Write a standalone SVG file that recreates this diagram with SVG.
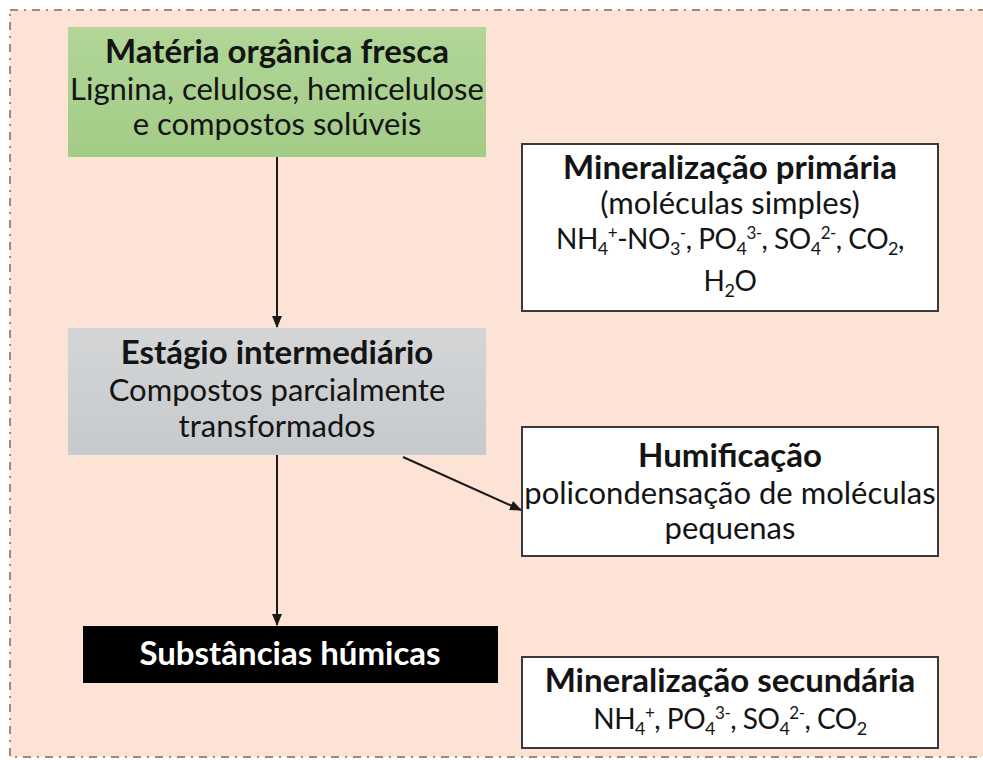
<svg xmlns="http://www.w3.org/2000/svg" width="983" height="760" viewBox="0 0 983 760">
<style>
text{font-family:Lato,"Open Sans","Liberation Sans",sans-serif;fill:#141414;text-anchor:middle}
.t{font-size:33px;font-weight:700}
.r{font-size:31px}
.f{font-size:28px;letter-spacing:-0.5px}
.w{fill:#ffffff}
.sub{font-size:18px;baseline-shift:-6px}
.sup{font-size:17px;baseline-shift:10px}
.box{fill:#ffffff;stroke:#3a3a3a;stroke-width:2}
.ln{stroke:#1a1a1a;stroke-width:2;fill:none}
</style>
<defs>
<marker id="ah" markerWidth="12" markerHeight="10" refX="11" refY="5" orient="auto" markerUnits="userSpaceOnUse">
<path d="M0,0 L12,5 L0,10 Z" fill="#1a1a1a"/>
</marker>
<linearGradient id="gg" x1="0" y1="0" x2="0" y2="1">
<stop offset="0" stop-color="#b1d697"/>
<stop offset="1" stop-color="#a3cc87"/>
</linearGradient>
<linearGradient id="gr" x1="0" y1="0" x2="0" y2="1">
<stop offset="0" stop-color="#d3d5d7"/>
<stop offset="1" stop-color="#c7cacc"/>
</linearGradient>
</defs>
<rect x="0" y="0" width="983" height="760" fill="#ffffff"/>
<rect x="10" y="10" width="990" height="747" fill="#fce3d6" stroke="#a9866f" stroke-width="2" stroke-dasharray="8 6 2 6"/>

<g id="connectors">
<line class="ln" x1="277" y1="157" x2="277" y2="327" marker-end="url(#ah)"/>
<line class="ln" x1="277" y1="455" x2="277" y2="625" marker-end="url(#ah)"/>
<line class="ln" x1="403" y1="457" x2="521" y2="510" marker-end="url(#ah)"/>
</g>

<g id="materia-organica">
<rect x="68" y="27" width="418" height="130" fill="url(#gg)"/>
<text class="t" x="277" y="63">Matéria orgânica fresca</text>
<text class="r" x="277" y="100">Lignina, celulose, hemicelulose</text>
<text class="r" x="277" y="135">e compostos solúveis</text>
</g>

<g id="mineralizacao-primaria">
<rect class="box" x="522" y="144" width="416" height="167"/>
<text class="t" x="730" y="179">Mineralização primária</text>
<text class="r" x="730" y="214">(moléculas simples)</text>
<text class="f" x="730" y="249">NH<tspan class="sub">4</tspan><tspan class="sup">+</tspan>-NO<tspan class="sub">3</tspan><tspan class="sup">-</tspan>, PO<tspan class="sub">4</tspan><tspan class="sup">3-</tspan>, SO<tspan class="sub">4</tspan><tspan class="sup">2-</tspan>, CO<tspan class="sub">2</tspan>,</text>
<text class="f" x="730" y="291">H<tspan class="sub">2</tspan>O</text>
</g>

<g id="estagio-intermediario">
<rect x="68" y="328" width="418" height="127" fill="url(#gr)"/>
<text class="t" x="277" y="364">Estágio intermediário</text>
<text class="r" x="277" y="401">Compostos parcialmente</text>
<text class="r" x="277" y="437">transformados</text>
</g>

<g id="humificacao">
<rect class="box" x="522" y="427" width="416" height="129"/>
<text class="t" x="730" y="467">Humificação</text>
<text class="r" x="730" y="504">policondensação de moléculas</text>
<text class="r" x="730" y="539">pequenas</text>
</g>

<g id="substancias-humicas">
<rect x="83" y="626" width="415" height="57" fill="#000000"/>
<text class="t w" x="290" y="665">Substâncias húmicas</text>
</g>

<g id="mineralizacao-secundaria">
<rect class="box" x="522" y="657" width="416" height="91"/>
<text class="t" x="730" y="692">Mineralização secundária</text>
<text class="f" x="730" y="729">NH<tspan class="sub">4</tspan><tspan class="sup">+</tspan>, PO<tspan class="sub">4</tspan><tspan class="sup">3-</tspan>, SO<tspan class="sub">4</tspan><tspan class="sup">2-</tspan>, CO<tspan class="sub">2</tspan></text>
</g>
</svg>
